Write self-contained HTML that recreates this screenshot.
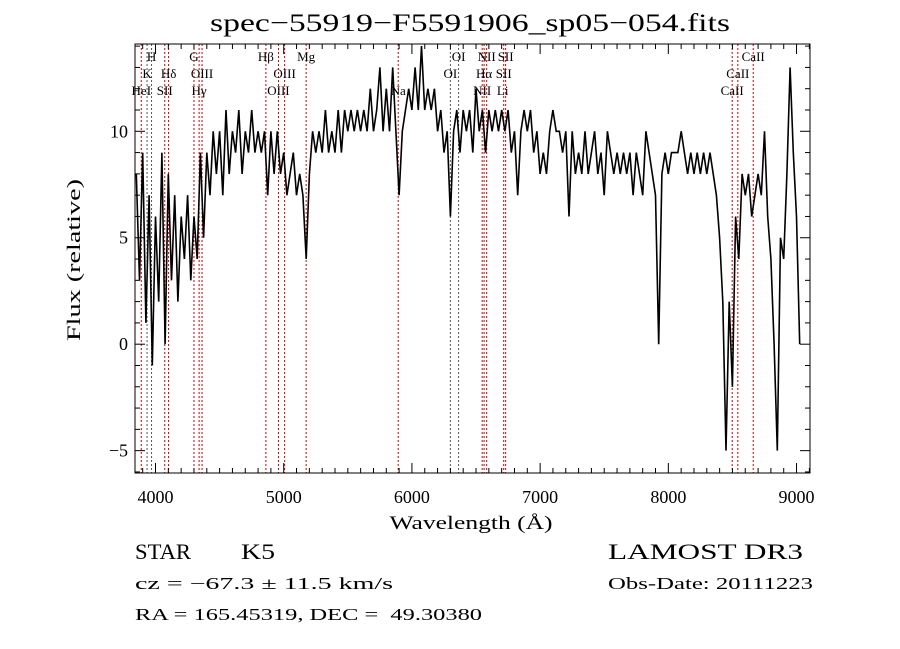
<!DOCTYPE html>
<html><head><meta charset="utf-8"><style>
body{margin:0;background:#fff}
svg{display:block}
text{font-family:"Liberation Serif",serif;fill:#000;white-space:pre}
</style></head><body>
<svg id="chart" width="900" height="649" viewBox="0 0 900 649" xmlns="http://www.w3.org/2000/svg">
<rect width="900" height="649" fill="#fff"/>
<text x="470" y="31" font-size="25" text-anchor="middle" textLength="520" lengthAdjust="spacingAndGlyphs">spec−55919−F5591906_sp05−054.fits</text>
<g id="lines"></g>
<g id="spec"></g>
<g id="axes"></g>
<text x="471" y="529" font-size="19" text-anchor="middle" textLength="163" lengthAdjust="spacingAndGlyphs">Wavelength (Å)</text>
<text transform="translate(80,260) rotate(-90)" font-size="19" text-anchor="middle" textLength="162" lengthAdjust="spacingAndGlyphs">Flux (relative)</text>
<text x="135" y="559" font-size="22" textLength="56" lengthAdjust="spacingAndGlyphs">STAR</text>
<text x="241" y="559" font-size="22" textLength="34" lengthAdjust="spacingAndGlyphs">K5</text>
<text x="608" y="559" font-size="22" textLength="195" lengthAdjust="spacingAndGlyphs">LAMOST DR3</text>
<text x="135" y="589" font-size="17" textLength="258" lengthAdjust="spacingAndGlyphs">cz = −67.3 ± 11.5 km/s</text>
<text x="608" y="589" font-size="17" textLength="205" lengthAdjust="spacingAndGlyphs">Obs-Date: 20111223</text>
<text x="135" y="620" font-size="17" textLength="347" lengthAdjust="spacingAndGlyphs">RA = 165.45319, DEC =  49.30380</text>
</svg>
<script>
const flux=[8,3,9,1,7,-1,6,2,9,0,8,3,7,2,6,4,7,3,6,4,9,5,9,7,10,8,10,7,11,8,10,9,11,8,10,9,11,9,10,9,10,7,10,8,10,8,9,7,8,9,7,8,7,4,8,10,9,10,9,11,9,10,9,11,9,11,10,11,10,11,10,11,10,12,10,11,13,10,12,10,13,10,7,10,11,12,11,13,11,14,11,12,11,12,10,11,9,10,6,10,11,9,11,10,11,9,12,10,11,9,11,10,11,10,11,10,11,9,10,7,10,11,10,11,9,10,8,9,8,10,11,10,10,9,10,6,10,8,9,8,10,8,9,10,8,9,7,10,9,8,9,8,9,8,9,7,9,8,7,10,9,8,7,0,8,9,8,9,9,9,10,9,8,9,8,9,8,9,8,9,8,7,5,2,-5,2,-2,6,4,8,7,8,6,7,8,7,10,6,4,0,-5,5,4,8,13,9,6,0];
const waveStart=3850, waveStep=25;
const lineWaves=[3889,3934,3969,4072,4102,4300,4340,4363,4861,4959,5007,5175,5893,6300,6364,6548,6563,6583,6716,6731,8498,8542,8662];
const lineGray=[0,1,1,0,0,0,0,0,0,0,0,0,0,1,1,0,0,0,0,0,0,0,0];
const labelText=["H","G","Hβ","Mg","OI","NII","SII","CaII","K","Hδ","OIII","OIII","OI","Hα","SII","CaII","HeI","SII","Hγ","OIII","Na","NII","Li","CaII"];
const labelWave=[3969,4300,4861,5175,6364,6583,6731,8662,3934,4102,4363,5007,6300,6563,6716,8542,3889,4072,4340,4959,5893,6548,6708,8498];
const labelRow=[0,0,0,0,0,0,0,0,1,1,1,1,1,1,1,1,2,2,2,2,2,2,2,2];
const xTicks=[4000,5000,6000,7000,8000,9000];
const yTicks=[-5,0,5,10];
const X0=135,X1=810,Y0=44,Y1=473,WMIN=3840,WMAX=9105,FMIN=-6.05,FMAX=14.1;
const xs=w=>X0+(w-WMIN)/(WMAX-WMIN)*(X1-X0);
const ys=f=>Y1-(f-FMIN)/(FMAX-FMIN)*(Y1-Y0);
const NS="http://www.w3.org/2000/svg";
function mk(t,a,p){const e=document.createElementNS(NS,t);for(const k in a)e.setAttribute(k,a[k]);p.appendChild(e);return e;}
const gL=document.getElementById('lines'),gS=document.getElementById('spec'),gA=document.getElementById('axes');
lineWaves.forEach((w,i)=>{const l=mk('line',{x1:xs(w),x2:xs(w),y1:Y0,y2:Y1,stroke:lineGray[i]?'#555':'#c00','stroke-width':1,'stroke-dasharray':'2,2'},gL);

});
labelText.forEach((t,i)=>{const e=mk('text',{x:xs(labelWave[i]),y:61+labelRow[i]*17,'font-size':13,'text-anchor':'middle'},gL);e.textContent=t;

});
let d='';flux.forEach((f,i)=>{d+=(i?'L':'M')+xs(waveStart+i*waveStep).toFixed(1)+','+ys(f).toFixed(1);});
const p=mk('path',{d:d,fill:'none',stroke:'#000','stroke-width':1.6},gS);


const fr=mk('rect',{x:X0,y:Y0,width:X1-X0,height:Y1-Y0,fill:'none',stroke:'#000','stroke-width':1},gA);


for(let w=3900;w<=9100;w+=100){const x=xs(w),L=(w%1000===0)?10:5;
mk('line',{x1:x,x2:x,y1:Y1,y2:Y1-L,stroke:'#000'},gA);mk('line',{x1:x,x2:x,y1:Y0,y2:Y0+L,stroke:'#000'},gA);}
for(let f=-6;f<=14;f++){const y=ys(f),L=(f%5===0)?10:5;
mk('line',{x1:X0,x2:X0+L,y1:y,y2:y,stroke:'#000'},gA);mk('line',{x1:X1,x2:X1-L,y1:y,y2:y,stroke:'#000'},gA);}
xTicks.forEach(w=>{const t=mk('text',{x:xs(w),y:503,'font-size':18,'text-anchor':'middle'},gA);t.textContent=w;

});
yTicks.forEach(f=>{const t=mk('text',{x:128,y:ys(f)+6,'font-size':18,'text-anchor':'end'},gA);t.textContent=f<0?'−'+(-f):f;

});
</script>
</body></html>
